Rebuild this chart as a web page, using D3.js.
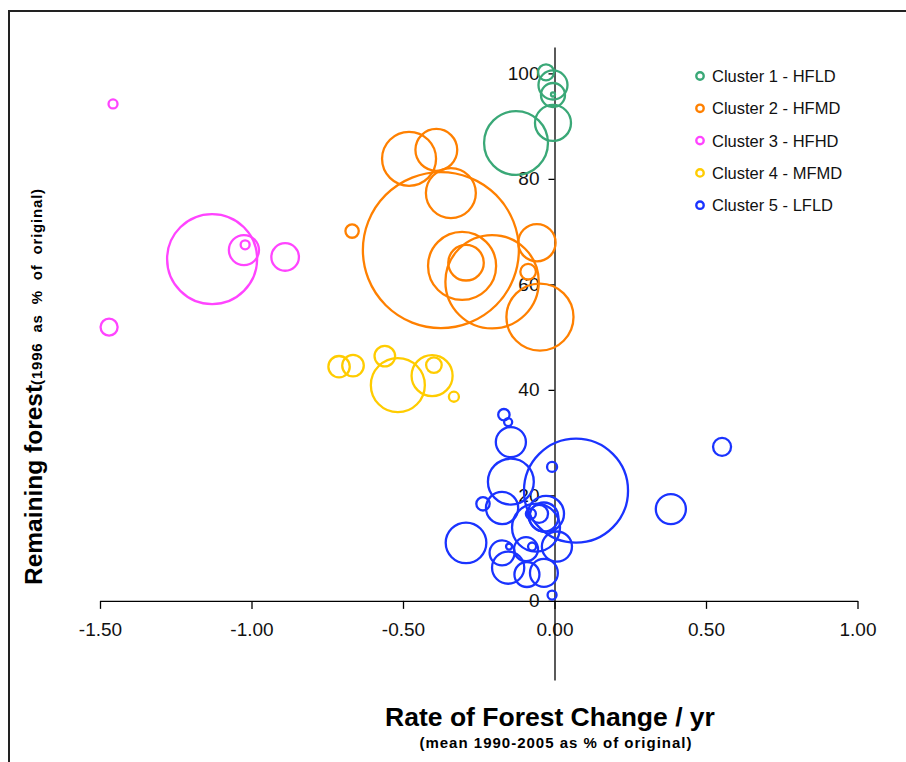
<!DOCTYPE html>
<html>
<head>
<meta charset="utf-8">
<script src="https://cdn.jsdelivr.net/npm/d3@7"></script>
<style>
  body { margin: 0; background: #fff; }
  svg { display: block; font-family: "Liberation Sans", Arial, sans-serif; }
</style>
</head>
<body>
<svg id="chart" width="906" height="762"></svg>
<script>
// clusters, legend order
const clusterNames = ['Cluster 1 - HFLD', 'Cluster 2 - HFMD', 'Cluster 3 - HFHD', 'Cluster 4 - MFMD', 'Cluster 5 - LFLD'];
const clusterColors = ['#3aa877', '#ff8000', '#ff44ff', '#ffcc00', '#1a33ff'];

// [rate of change %/yr, remaining forest %, bubble size]
const hfld = [
  [-0.028, 100.2, 0.79], [-0.005, 97.8, 2.6], [-0.005, 95.9, 1.78],
  [-0.005, 96.0, 0.05], [-0.005, 90.6, 4.0], [-0.127, 86.8, 12.6]
];
const hfmd = [
  [-0.48, 83.8, 9.0], [-0.39, 85.5, 5.4], [-0.342, 77.3, 7.7], [-0.668, 70.1, 0.55],
  [-0.375, 66.5, 75.1], [-0.058, 67.9, 4.3], [-0.305, 63.5, 14.3], [-0.292, 64.1, 3.9],
  [-0.206, 60.5, 26.9], [-0.087, 62.4, 0.75], [-0.048, 53.8, 13.9]
];
const hfhd = [
  [-1.457, 94.2, 0.25], [-1.13, 64.8, 25.0], [-1.025, 66.5, 2.8],
  [-1.021, 67.5, 0.25], [-0.889, 65.2, 2.35], [-1.47, 51.9, 0.9]
];
const mfmd = [
  [-0.711, 44.4, 1.41], [-0.665, 44.6, 1.44], [-0.56, 46.4, 1.31], [-0.517, 40.9, 9.0],
  [-0.404, 42.7, 5.2], [-0.398, 44.7, 0.75], [-0.332, 38.7, 0.31]
];
const lfld = [
  [-0.167, 35.3, 0.4], [-0.153, 33.9, 0.2], [-0.144, 30.1, 2.8], [0.071, 20.9, 33.4],
  [-0.008, 25.4, 0.31], [-0.144, 22.6, 6.5], [-0.236, 18.4, 0.55], [-0.173, 17.6, 3.2],
  [-0.292, 11.0, 5.1], [-0.028, 16.5, 4.0], [-0.035, 15.9, 2.6], [-0.061, 13.9, 7.1],
  [-0.051, 16.5, 1.0], [-0.078, 16.5, 0.31], [0.008, 10.3, 2.8], [-0.173, 9.1, 1.93],
  [-0.153, 6.3, 3.2], [-0.15, 10.3, 0.11], [-0.094, 9.8, 1.78], [-0.074, 10.3, 0.2],
  [-0.091, 5.0, 1.93], [-0.035, 5.3, 2.4], [-0.008, 1.1, 0.25], [0.384, 17.4, 2.8],
  [0.553, 29.2, 1.0]
];
const clusters = [hfld, hfmd, hfhd, mfmd, lfld];

const xTicks = [-1.5, -1.0, -0.5, 0, 0.5, 1.0];
const yTicks = [0, 20, 40, 60, 80, 100];

const svg = d3.select('#chart');

const x = d3.scaleLinear().domain([-1.5, 1.0]).range([100, 857.5]);
const y = d3.scaleLinear().domain([-15, 105]).range([680, 47]);
const r = d3.scaleSqrt().domain([0, 100]).range([0, 90]);

// frame (top and left edges only)
svg.append('path')
  .attr('d', 'M9,762V11H906')
  .attr('fill', 'none')
  .attr('stroke', '#222')
  .attr('stroke-width', 2);

// x axis through y = 0
const xAxis = svg.append('g')
  .attr('transform', `translate(0,${y(0)})`)
  .call(d3.axisBottom(x).tickValues(xTicks).tickFormat(d => d.toFixed(2)).tickSize(8).tickSizeOuter(0).tickPadding(14));

// y axis through x = 0
const yAxis = svg.append('g')
  .attr('transform', `translate(${x(0)},0)`)
  .call(d3.axisLeft(y).tickValues(yTicks).tickSize(6).tickSizeOuter(0).tickPadding(9));

[xAxis, yAxis].forEach(a => {
  a.selectAll('path, line').attr('stroke', '#000').attr('stroke-width', 1.3);
  a.selectAll('text').attr('font-size', 19).attr('fill', '#111')
    .attr('font-family', '"Liberation Sans", Arial, sans-serif');
});

// bubbles
const plot = svg.append('g');
clusters.forEach((data, i) => {
  plot.append('g').selectAll('circle')
    .data(data)
    .enter()
    .append('circle')
    .attr('cx', d => x(d[0]))
    .attr('cy', d => y(d[1]))
    .attr('r', d => r(d[2]))
    .attr('fill', 'none')
    .attr('stroke', clusterColors[i])
    .attr('stroke-width', 2.3);
});

// legend
const legend = svg.append('g').attr('transform', 'translate(700,76)');
const rows = legend.selectAll('g')
  .data(clusterNames)
  .enter()
  .append('g')
  .attr('transform', (d, i) => `translate(0,${i * 32.3})`);
rows.append('circle')
  .attr('r', 3.7)
  .attr('fill', 'none')
  .attr('stroke', (d, i) => clusterColors[i])
  .attr('stroke-width', 2.4);
rows.append('text')
  .attr('x', 12)
  .attr('dy', '0.36em')
  .attr('font-size', 16.5)
  .attr('fill', '#111')
  .text(d => d);

// axis titles
svg.append('text')
  .attr('x', 550)
  .attr('y', 726)
  .attr('text-anchor', 'middle')
  .attr('font-weight', 'bold')
  .attr('font-size', 26.5)
  .attr('fill', '#000')
  .text('Rate of Forest Change / yr');

svg.append('text')
  .attr('x', 556)
  .attr('y', 748)
  .attr('text-anchor', 'middle')
  .attr('font-weight', 'bold')
  .attr('font-size', 15)
  .attr('letter-spacing', 1)
  .attr('fill', '#000')
  .text('(mean 1990-2005 as % of original)');

const yTitle = svg.append('text')
  .attr('transform', 'translate(42,585) rotate(-90)')
  .attr('font-weight', 'bold')
  .attr('fill', '#000');
yTitle.append('tspan').attr('font-size', 24.5).text('Remaining forest');
yTitle.append('tspan').attr('font-size', 15).attr('letter-spacing', 0.8).attr('word-spacing', 5)
  .text('(1996 as % of original)');
</script>
</body>
</html>
